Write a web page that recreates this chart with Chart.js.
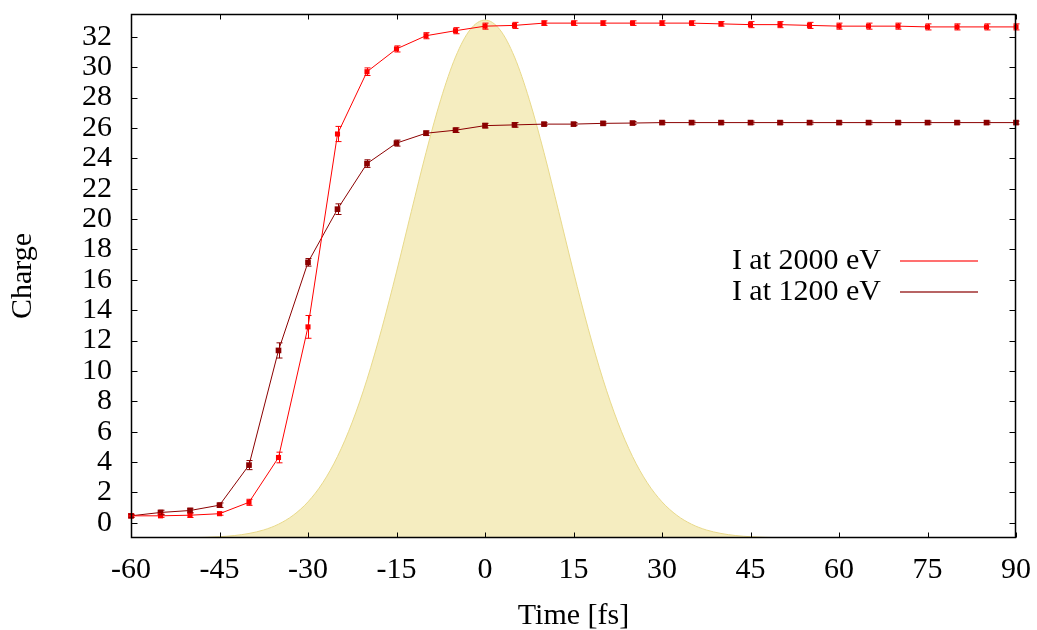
<!DOCTYPE html>
<html>
<head>
<meta charset="utf-8">
<script src="https://cdn.jsdelivr.net/npm/chart.js@4/dist/chart.umd.min.js"></script>
<style>
  html, body { margin: 0; padding: 0; background: #fff; }
  canvas { display: block; }
</style>
</head>
<body>
<canvas id="c" width="1037" height="630"></canvas>
<script>
// ---- data ----
const times = [-60,-55,-50,-45,-40,-35,-30,-25,-20,-15,-10,-5,0,5,10,15,20,25,30,35,40,45,50,55,60,65,70,75,80,85,90];
const charge2000 = [0.46,0.46,0.5,0.6,1.35,4.3,12.9,25.6,29.7,31.2,32.07,32.4,32.7,32.75,32.9,32.9,32.9,32.9,32.9,32.9,32.85,32.8,32.8,32.75,32.7,32.7,32.7,32.65,32.65,32.65,32.65];
const err2000 = [0.1,0.1,0.15,0.1,0.2,0.35,0.75,0.5,0.25,0.2,0.2,0.2,0.2,0.2,0.15,0.15,0.15,0.15,0.15,0.15,0.15,0.2,0.2,0.2,0.2,0.2,0.2,0.2,0.2,0.2,0.2];
const charge1200 = [0.46,0.68,0.81,1.16,3.8,11.35,17.15,20.65,23.65,25.0,25.65,25.85,26.15,26.2,26.25,26.25,26.3,26.32,26.35,26.35,26.35,26.35,26.35,26.35,26.35,26.35,26.35,26.35,26.35,26.35,26.35];
const err1200 = [0.1,0.15,0.15,0.15,0.3,0.5,0.25,0.35,0.25,0.2,0.15,0.15,0.15,0.15,0.1,0.1,0.1,0.1,0.1,0.1,0.1,0.1,0.1,0.1,0.1,0.1,0.1,0.1,0.1,0.1,0.1];
const pulseTime = [-60,-55,-50,-47.5,-45,-42.5,-40,-37.5,-35,-32.5,-30,-27.5,-25,-22.5,-20,-17.5,-15,-12.5,-10,-7.5,-5,-2.5,0,2.5,5,7.5,10,12.5,15,17.5,20,22.5,25,27.5,30,32.5,35,37.5,40,42.5,45,47.5,50,55,60,90];
const pulseValue = [-1,-0.996,-0.979,-0.957,-0.915,-0.84,-0.70,-0.47,-0.09,0.50,1.38,2.64,4.37,6.63,9.44,12.78,16.52,20.48,24.37,27.87,30.67,32.48,33.1,32.48,30.67,27.87,24.37,20.48,16.52,12.78,9.44,6.63,4.37,2.64,1.38,0.50,-0.09,-0.47,-0.70,-0.84,-0.915,-0.957,-0.979,-0.996,-1,-1];
const xTicks = [-60,-45,-30,-15,0,15,30,45,60,75,90];
const yTicks = [0,2,4,6,8,10,12,14,16,18,20,22,24,26,28,30,32];
const seriesNames = ["I at 2000 eV", "I at 1200 eV"];

const RED = "#ff0000";
const DARK = "#8b0000";
const FONT = "'Liberation Serif', 'DejaVu Serif', serif";

const toXY = (xs, ys) => xs.map((t, i) => ({x: t, y: ys[i]}));

const errorBars = {
  id: 'errorBars',
  afterDatasetsDraw(chart) {
    const {ctx, scales: {x, y}} = chart;
    [[charge2000, err2000, RED], [charge1200, err1200, DARK]].forEach(([vals, errs, col]) => {
      ctx.save();
      ctx.strokeStyle = col;
      ctx.lineWidth = 1;
      times.forEach((t, i) => {
        const px = Math.round(x.getPixelForValue(t)) + 0.5;
        const y1 = y.getPixelForValue(vals[i] - errs[i]);
        const y2 = y.getPixelForValue(vals[i] + errs[i]);
        ctx.beginPath();
        ctx.moveTo(px, y1); ctx.lineTo(px, y2);
        ctx.moveTo(px - 3, y1); ctx.lineTo(px + 3, y1);
        ctx.moveTo(px - 3, y2); ctx.lineTo(px + 3, y2);
        ctx.stroke();
      });
      ctx.restore();
    });
  }
};

const frameAndLegend = {
  id: 'frameAndLegend',
  afterDraw(chart) {
    const {ctx, chartArea: a, scales: {x, y}} = chart;
    ctx.save();
    ctx.strokeStyle = "#000";
    ctx.lineWidth = 1;
    const L = Math.round(a.left) + 0.5, R = Math.round(a.right) - 0.5;
    const T = Math.round(a.top) + 0.5, B = Math.round(a.bottom) - 0.5;
    ctx.beginPath();
    xTicks.forEach(v => {
      const px = Math.round(x.getPixelForValue(v)) + 0.5;
      ctx.moveTo(px, B); ctx.lineTo(px, B - 5);
      ctx.moveTo(px, T); ctx.lineTo(px, T + 5);
    });
    yTicks.forEach(v => {
      const py = Math.round(y.getPixelForValue(v)) + 0.5;
      ctx.moveTo(L, py); ctx.lineTo(L + 6, py);
      ctx.moveTo(R, py); ctx.lineTo(R - 6, py);
    });
    ctx.stroke();
    ctx.lineWidth = 1.5;
    ctx.strokeRect(L, T, R - L, B - T);

    // legend
    ctx.font = "30px " + FONT;
    ctx.fillStyle = "#000";
    ctx.textAlign = "right";
    ctx.textBaseline = "middle";
    const rows = [[seriesNames[0], "#ff4040", 261], [seriesNames[1], "#a03030", 292]];
    rows.forEach(([txt, col, yy]) => {
      ctx.fillText(txt, 881, yy);
      ctx.strokeStyle = col;
      ctx.lineWidth = 1.6;
      ctx.beginPath();
      ctx.moveTo(900, yy); ctx.lineTo(978, yy);
      ctx.stroke();
    });
    ctx.restore();
  }
};

new Chart(document.getElementById('c'), {
  type: 'line',
  data: {
    datasets: [
      {
        label: seriesNames[0],
        data: toXY(times, charge2000),
        borderColor: RED, backgroundColor: RED,
        borderWidth: 1, pointStyle: 'rect', pointRadius: 3.6,
        pointBorderWidth: 0, tension: 0, clip: false
      },
      {
        label: seriesNames[1],
        data: toXY(times, charge1200),
        borderColor: DARK, backgroundColor: DARK,
        borderWidth: 1, pointStyle: 'rect', pointRadius: 4,
        pointBorderWidth: 0, tension: 0, clip: false
      },
      {
        label: 'pulse',
        data: toXY(pulseTime, pulseValue),
        borderColor: "#e8d98a", backgroundColor: "#f5edc0",
        borderWidth: 1, pointRadius: 0, fill: 'start',
        cubicInterpolationMode: 'monotone'
      }
    ]
  },
  options: {
    responsive: false,
    animation: false,
    devicePixelRatio: 1,
    layout: { padding: { top: 14, right: 21, left: 0, bottom: 0 } },
    plugins: { legend: { display: false }, tooltip: { enabled: false } },
    scales: {
      x: {
        type: 'linear', min: -60, max: 90,
        afterBuildTicks: s => { s.ticks = xTicks.map(v => ({value: v})); },
        afterFit: s => { s.height = 92; s.paddingLeft = 0; s.paddingRight = 0; s.paddingTop = 0; s.paddingBottom = 0; },
        grid: { display: false, drawTicks: false },
        border: { display: false },
        ticks: { color: "#000", font: { family: FONT, size: 30 }, padding: 14, maxRotation: 0, autoSkip: false },
        title: { display: true, text: "Time [fs]", color: "#000", font: { family: FONT, size: 30 }, padding: { top: 0, bottom: -4 } }
      },
      y: {
        type: 'linear', min: -1, max: 33.5,
        afterBuildTicks: s => { s.ticks = yTicks.map(v => ({value: v})); },
        afterFit: s => { s.width = 131; s.paddingLeft = 0; s.paddingRight = 0; s.paddingTop = 0; s.paddingBottom = 0; },
        grid: { display: false, drawTicks: false },
        border: { display: false },
        ticks: { color: "#000", font: { family: FONT, size: 30 }, padding: 19, autoSkip: false },
        title: { display: true, text: "Charge", color: "#000", font: { family: FONT, size: 30 }, padding: { top: 5, bottom: 0 } }
      }
    }
  },
  plugins: [errorBars, frameAndLegend]
});
</script>
</body>
</html>
